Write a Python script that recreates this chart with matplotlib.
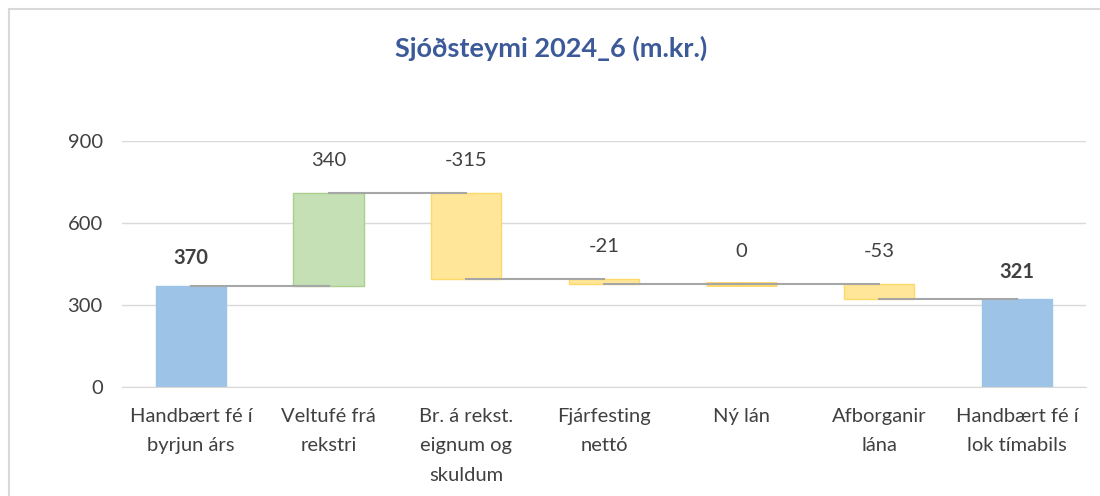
import matplotlib.pyplot as plt
from matplotlib.patches import Rectangle

plt.rcParams['font.family'] = ['Lato', 'DejaVu Sans']

# Cash flow steps (m.kr.)
categories = ["Handbært fé í\nbyrjun árs", "Veltufé frá\nrekstri", "Br. á rekst.\neignum og\nskuldum",
              "Fjárfesting\nnettó", "Ný lán", "Afborganir\nlána", "Handbært fé í\nlok tímabils"]
values = [370, 340, -315, -21, 0, -53, 321]
is_total = [True, False, False, False, False, False, True]

BLUE, GREEN, YELLOW = '#9DC3E6', '#C5E0B4', '#FFE699'
EDGE = {BLUE: BLUE, GREEN: '#A9D18E', YELLOW: '#FFD966'}
TXT = '#404040'
FS = 14.5

fig = plt.figure(figsize=(11, 4.96), dpi=100)
ax = fig.add_axes([0.111, 0.2204, 0.876, 0.4959])

# running totals for the floating bars
bottoms, heights, levels = [], [], []
level = 0
for v, tot in zip(values, is_total):
    if tot:
        bottoms.append(0)
        heights.append(v)
        level = v
    else:
        bottoms.append(level)
        heights.append(v)
        level += v
    levels.append(level)

x = list(range(len(categories)))
for i in x:
    if is_total[i]:
        c = BLUE
    elif values[i] > 0:
        c = GREEN
    else:
        c = YELLOW
    lw = 3.5 if heights[i] == 0 else 1
    ax.bar(i, heights[i], bottom=bottoms[i], width=0.51, color=c,
           edgecolor=EDGE[c], linewidth=lw, zorder=2)

    top = max(bottoms[i], bottoms[i] + heights[i])
    off = 19.5 if is_total[i] else 23.5
    ax.annotate(f"{values[i]}", (i, top), xytext=(0, off), textcoords='offset points',
                ha='center', va='center', fontsize=FS, color=TXT,
                fontweight='bold' if is_total[i] else 'normal')

# connector lines between bar centres
for i in range(len(x) - 1):
    ax.plot([i, i + 1], [levels[i], levels[i]], color='#A6A6A6', lw=1.5, zorder=3)

ax.set_xlim(-0.5, len(x) - 0.5)
ax.set_ylim(0, 900)
ax.set_yticks([0, 300, 600, 900])
ax.set_xticks(x)
ax.set_xticklabels(categories, fontsize=FS, color=TXT, linespacing=1.87)
ax.tick_params(axis='y', length=0, pad=14, labelsize=FS, labelcolor=TXT)
ax.tick_params(axis='x', length=0, pad=15.5)
ax.grid(axis='y', color='#D9D9D9', lw=1, zorder=0)
ax.set_axisbelow(True)
for s in ['top', 'right', 'left']:
    ax.spines[s].set_visible(False)
ax.spines['bottom'].set_color('#D9D9D9')

fig.text(0.501, 0.903, "Sjóðsteymi 2024_6 (m.kr.)", ha='center', va='center',
         fontsize=19.5, fontweight='bold', color='#3C5A99')

# chart frame
fig.patches.append(Rectangle((9 / 1100, -0.1), 1.2, 1.1 - 9 / 496, transform=fig.transFigure,
                             fill=False, edgecolor='#D9D9D9', lw=1.5, clip_on=False))

fig.savefig('out.png', dpi=100)
